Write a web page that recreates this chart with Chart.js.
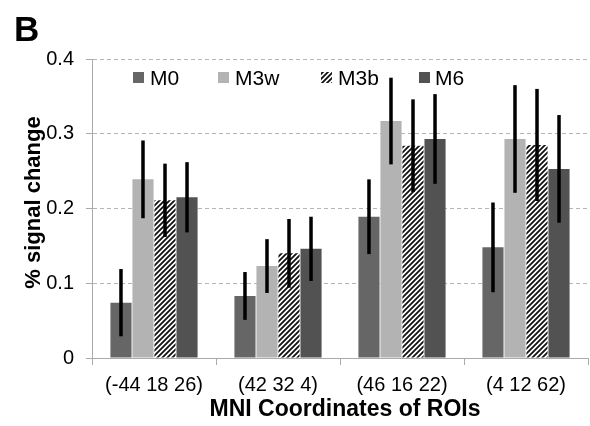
<!DOCTYPE html>
<html>
<head>
<meta charset="utf-8">
<script src="https://cdn.jsdelivr.net/npm/chart.js@4/dist/chart.umd.min.js"></script>
<style>
  html, body { margin: 0; padding: 0; background: #fff; }
  #wrap { width: 590px; height: 426px; position: relative; }
</style>
</head>
<body>
<div id="wrap"><canvas id="roiChart"></canvas></div>
<script>
// ROI labels and group means / error half-widths
const rois = ["(-44 18 26)", "(42 32 4)", "(46 16 22)", "(4 12 62)"];
const seriesNames = ["M0", "M3w", "M3b", "M6"];
const m0 = [0.074, 0.083, 0.189, 0.148];
const m3w = [0.239, 0.123, 0.317, 0.293];
const m3b = [0.211, 0.140, 0.284, 0.285];
const m6 = [0.215, 0.146, 0.293, 0.253];
const m0Err = [0.045, 0.032, 0.050, 0.060];
const m3wErr = [0.052, 0.036, 0.058, 0.072];
const m3bErr = [0.049, 0.046, 0.062, 0.075];
const m6Err = [0.047, 0.043, 0.060, 0.072];
const yTicks = [0, 0.1, 0.2, 0.3, 0.4];

const FONT = "'Liberation Sans', Arial, sans-serif";

// diagonal hatch for M3b
function makeHatch() {
  const c = document.createElement("canvas");
  c.width = 5;
  c.height = 5;
  const g = c.getContext("2d");
  g.fillStyle = "#fff";
  g.fillRect(0, 0, 5, 5);
  g.strokeStyle = "#111";
  g.lineWidth = 1.8;
  g.beginPath();
  g.moveTo(-1, 6); g.lineTo(6, -1);
  g.moveTo(-4, 4); g.lineTo(4, -4);
  g.moveTo(1, 9); g.lineTo(9, 1);
  g.stroke();
  return g.createPattern(c, "repeat");
}
const hatch = makeHatch();

const fills = ["#666666", "#b3b3b3", hatch, "#525252"];
const errors = [m0Err, m3wErr, m3bErr, m6Err];

// vertical error bars, drawn through the y scale
const errorBars = {
  id: "errorBars",
  afterDatasetsDraw(chart) {
    const ctx = chart.ctx;
    const y = chart.scales.y;
    ctx.save();
    ctx.strokeStyle = "#000";
    ctx.lineWidth = 3.5;
    chart.data.datasets.forEach((ds, i) => {
      const meta = chart.getDatasetMeta(i);
      meta.data.forEach((bar, j) => {
        const v = ds.data[j];
        const e = errors[i][j];
        ctx.beginPath();
        ctx.moveTo(bar.x, y.getPixelForValue(v + e));
        ctx.lineTo(bar.x, y.getPixelForValue(v - e));
        ctx.stroke();
      });
    });
    ctx.restore();
  },
};

// panel letter, axis titles and in-plot legend
const decorations = {
  id: "decorations",
  afterDraw(chart) {
    const ctx = chart.ctx;
    const area = chart.chartArea;
    ctx.save();
    ctx.fillStyle = "#000";
    ctx.textBaseline = "alphabetic";
    ctx.font = "bold 35px " + FONT;
    ctx.fillText("B", 14, 41);

    // y title
    ctx.save();
    ctx.translate(40, (area.top + area.bottom) / 2 - 6);
    ctx.rotate(-Math.PI / 2);
    ctx.textAlign = "center";
    ctx.font = "bold 22px " + FONT;
    ctx.fillText("% signal change", 0, 0);
    ctx.restore();

    // x title
    ctx.textAlign = "center";
    ctx.font = "bold 23px " + FONT;
    ctx.fillText("MNI Coordinates of ROIs", 345, 416);

    // legend
    const boxX = [133, 218, 321, 419];
    const textX = [150, 235, 338, 435];
    const legendY = 78;
    ctx.textAlign = "left";
    ctx.textBaseline = "middle";
    ctx.font = "21px " + FONT;
    seriesNames.forEach((name, i) => {
      ctx.fillStyle = fills[i];
      ctx.fillRect(boxX[i], legendY - 6, 11, 11);
      ctx.fillStyle = "#000";
      ctx.fillText(name, textX[i], legendY + 1);
    });
    ctx.restore();
  },
};

const ctx = document.getElementById("roiChart").getContext("2d");
new Chart(ctx, {
  type: "bar",
  data: {
    labels: rois,
    datasets: [m0, m3w, m3b, m6].map((d, i) => ({
      label: seriesNames[i],
      data: d,
      backgroundColor: fills[i],
      borderWidth: 0,
      categoryPercentage: 0.71,
      barPercentage: 0.96,
    })),
  },
  options: {
    responsive: true,
    maintainAspectRatio: false,
    animation: false,
    layout: { padding: { top: 59, right: 2, left: 0, bottom: 0 } },
    plugins: {
      legend: { display: false },
      tooltip: { enabled: false },
    },
    scales: {
      y: {
        min: 0,
        max: 0.4,
        afterBuildTicks: (axis) => {
          axis.ticks = yTicks.map((v) => ({ value: v }));
        },
        afterFit: (axis) => {
          axis.width = 92;
        },
        grid: {
          color: (c) => (c.tick.value === 0 ? "rgba(0,0,0,0)" : "#b5b5b5"),
          drawTicks: true,
          tickLength: 6,
          tickColor: "#aaa",
          tickBorderDash: [],
        },
        border: { display: true, color: "#aaa", width: 1, dash: [4, 3] },
        ticks: {
          color: "#000",
          padding: 12,
          font: { family: FONT, size: 20 },
          callback: (v) => (v === 0 ? "0" : String(v)),
        },
      },
      x: {
        afterFit: (axis) => {
          axis.height = 426 - 358;
        },
        grid: {
          offset: true,
          drawOnChartArea: false,
          drawTicks: true,
          tickLength: 7,
          color: "#aaa",
        },
        border: { display: true, color: "#aaa", width: 1 },
        ticks: {
          color: "#000",
          padding: 8,
          font: { family: FONT, size: 20 },
        },
      },
    },
  },
  plugins: [errorBars, decorations],
});
</script>
</body>
</html>
